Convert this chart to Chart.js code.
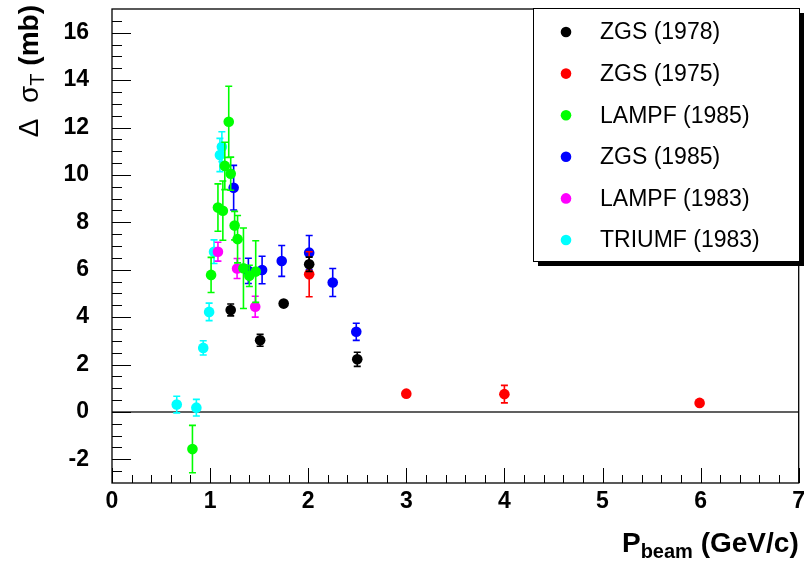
<!DOCTYPE html>
<html>
<head>
<meta charset="utf-8">
<script src="https://cdn.jsdelivr.net/npm/chart.js@4"></script>
<style>
  html, body { margin: 0; padding: 0; background: #fff; }
  #wrap { width: 804px; height: 564px; }
</style>
</head>
<body>
<div id="wrap"><canvas id="myChart" width="804" height="564"></canvas></div>
<script>
// ---- data: x = P_beam (GeV/c), y = delta sigma_T (mb), e = error ----
var zgs78X = [1.21, 1.51, 1.75, 2.01, 2.50];
var zgs78Y = [4.30, 3.02, 4.57, 6.23, 2.22];
var zgs78E = [0.25, 0.25, 0.0, 0.3, 0.3];

var zgs75X = [2.01, 3.00, 4.00, 5.99];
var zgs75Y = [5.81, 0.77, 0.75, 0.38];
var zgs75E = [0.95, 0.0, 0.37, 0.1];

var lampf85X = [0.82, 1.01, 1.08, 1.13, 1.15, 1.19, 1.21, 1.25, 1.28, 1.34, 1.40, 1.465];
var lampf85Y = [-1.57, 5.78, 8.62, 8.49, 10.38, 12.24, 10.05, 7.86, 7.29, 6.06, 5.74, 5.92];
var lampf85E = [1.0, 0.74, 1.0, 1.25, 1.0, 1.5, 0.7, 0.6, 1.0, 1.7, 0.45, 1.3];

var zgs85X = [1.24, 1.39, 1.53, 1.73, 2.01, 2.25, 2.49];
var zgs85Y = [9.46, 5.95, 5.99, 6.37, 6.72, 5.46, 3.38];
var zgs85E = [0.94, 0.53, 0.58, 0.65, 0.72, 0.59, 0.36];

var lampf83X = [1.08, 1.275, 1.46];
var lampf83Y = [6.76, 6.05, 4.44];
var lampf83E = [0.4, 0.42, 0.44];

var triumfX = [0.66, 0.86, 0.93, 0.99, 1.04, 1.10, 1.12];
var triumfY = [0.31, 0.18, 2.70, 4.22, 6.76, 10.84, 11.19];
var triumfE = [0.35, 0.35, 0.3, 0.37, 0.5, 0.7, 0.63];

var seriesNames = ["ZGS (1978)", "ZGS (1975)", "LAMPF (1985)", "ZGS (1985)", "LAMPF (1983)", "TRIUMF (1983)"];
var seriesColors = ["#000000", "#ff0000", "#00ff00", "#0000ff", "#ff00ff", "#00ffff"];

var xTicks = [0, 1, 2, 3, 4, 5, 6, 7];
var yTicks = [-2, 0, 2, 4, 6, 8, 10, 12, 14, 16];

function makeSet(i, xs, ys, es) {
  var pts = [];
  for (var k = 0; k < xs.length; k++) {
    pts.push({ x: xs[k], y: ys[k], e: es[k] });
  }
  return {
    label: seriesNames[i],
    data: pts,
    backgroundColor: seriesColors[i],
    borderColor: seriesColors[i],
    borderWidth: 0,
    pointRadius: 5.3,
    pointHoverRadius: 5.3
  };
}

var datasets = [
  makeSet(0, zgs78X, zgs78Y, zgs78E),
  makeSet(1, zgs75X, zgs75Y, zgs75E),
  makeSet(2, lampf85X, lampf85Y, lampf85E),
  makeSet(3, zgs85X, zgs85Y, zgs85E),
  makeSet(4, lampf83X, lampf83Y, lampf83E),
  makeSet(5, triumfX, triumfY, triumfE)
];

var FONT = "'Liberation Sans', Arial, Helvetica, sans-serif";

// frame, inner ticks, zero line, error bars, legend and axis titles
var framePlugin = {
  id: 'frame',
  beforeDatasetsDraw: function(chart) {
    var c = chart.ctx, a = chart.chartArea;
    var xs = chart.scales.x, ys = chart.scales.y;
    c.save();
    // zero line
    c.strokeStyle = '#606060';
    c.lineWidth = 2;
    c.beginPath();
    c.moveTo(a.left, ys.getPixelForValue(0));
    c.lineTo(a.right, ys.getPixelForValue(0));
    c.stroke();
    // frame
    c.strokeStyle = '#000';
    c.lineWidth = 1.3;
    c.strokeRect(a.left, a.top, a.right - a.left, a.bottom - a.top);
    c.lineWidth = 1;
    c.beginPath();
    // y ticks every 0.5, major every 2
    for (var v = -3; v <= 17.001; v += 0.5) {
      var py = Math.round(ys.getPixelForValue(v)) + 0.5;
      var len = (Math.abs(v % 2) < 1e-6) ? 19 : 10;
      if (py <= a.top + 1 || py >= a.bottom - 1) continue;
      c.moveTo(a.left, py);
      c.lineTo(a.left + len, py);
    }
    // x ticks every 0.2, major every 1
    for (var k = 0; k <= 35; k++) {
      var xv = k * 0.2;
      var px = Math.round(xs.getPixelForValue(xv)) + 0.5;
      var l2 = (k % 5 === 0) ? 15 : 8;
      c.moveTo(px, a.bottom);
      c.lineTo(px, a.bottom - l2);
    }
    c.stroke();
    c.restore();
  },
  beforeDatasetDraw: function(chart, args) {
    // error bars under each series' markers
    var ds = chart.data.datasets[args.index];
    var xs = chart.scales.x, ys = chart.scales.y, c = chart.ctx;
    c.save();
    c.strokeStyle = ds.borderColor;
    c.lineWidth = 1.6;
    c.beginPath();
    ds.data.forEach(function(p) {
      if (!p.e) return;
      var px = xs.getPixelForValue(p.x);
      var top = ys.getPixelForValue(p.y + p.e);
      var bot = ys.getPixelForValue(p.y - p.e);
      c.moveTo(px, top); c.lineTo(px, bot);
      c.moveTo(px - 3.5, top); c.lineTo(px + 3.5, top);
      c.moveTo(px - 3.5, bot); c.lineTo(px + 3.5, bot);
    });
    c.stroke();
    c.restore();
  },
  afterDraw: function(chart) {
    var c = chart.ctx;
    c.save();
    // legend box with shadow
    var bx = 533, by = 8, bw = 266, bh = 253;
    c.fillStyle = '#000';
    c.fillRect(bx + 5, by + 5, bw, bh);
    c.fillStyle = '#fff';
    c.fillRect(bx, by, bw, bh);
    c.strokeStyle = '#000';
    c.lineWidth = 1;
    c.strokeRect(bx + 0.5, by + 0.5, bw, bh);
    c.font = '23px ' + FONT;
    c.textBaseline = 'middle';
    chart.data.datasets.forEach(function(ds, i) {
      var ry = 32 + i * 41.6;
      c.fillStyle = ds.backgroundColor;
      c.beginPath();
      c.arc(566, ry, 5.3, 0, Math.PI * 2);
      c.fill();
      c.fillStyle = '#000';
      c.textAlign = 'left';
      c.fillText(ds.label, 600, ry + 1);
    });

    // x axis title: P_beam (GeV/c), right aligned to the frame end
    var big = 'bold 28px ' + FONT, small = 'bold 20px ' + FONT;
    c.textBaseline = 'alphabetic';
    c.textAlign = 'left';
    c.font = big; var w1 = c.measureText('P').width;
    c.font = small; var w2 = c.measureText('beam').width;
    c.font = big; var w3 = c.measureText(' (GeV/c)').width;
    var x0 = chart.chartArea.right - (w1 + w2 + w3);
    var base = 552;
    c.font = big; c.fillText('P', x0, base);
    c.font = small; c.fillText('beam', x0 + w1, base + 6);
    c.font = big; c.fillText(' (GeV/c)', x0 + w1 + w2, base);

    // y axis title: Δ σ_T (mb), rotated, right aligned to the frame top
    var nrm = '28px ' + FONT, sub = '20px ' + FONT;
    c.font = nrm; var a1 = c.measureText('\u0394  \u03c3').width;
    c.font = sub; var a2 = c.measureText('T').width;
    c.font = big; var a3 = c.measureText(' (mb)').width;
    var total = a1 + a2 + a3;
    c.translate(38, 5 + total);
    c.rotate(-Math.PI / 2);
    c.fillStyle = '#000';
    c.font = nrm; c.fillText('\u0394  \u03c3', 0, 0);
    c.font = sub; c.fillText('T', a1, 6);
    c.font = big; c.fillText(' (mb)', a1 + a2, 0);
    c.restore();
  }
};

var ctx = document.getElementById('myChart').getContext('2d');
var chart = new Chart(ctx, {
  type: 'scatter',
  data: { datasets: datasets },
  options: {
    responsive: false,
    animation: false,
    layout: { padding: { top: 9, right: 4, left: 0, bottom: 0 } },
    plugins: {
      legend: { display: false },
      tooltip: { enabled: false }
    },
    scales: {
      x: {
        type: 'linear',
        min: 0, max: 7,
        afterBuildTicks: function(s) { s.ticks = xTicks.map(function(v) { return { value: v }; }); },
        afterFit: function(s) { s.height = 81; s.paddingLeft = 0; s.paddingRight = 0; },
        grid: { display: false, drawTicks: false },
        border: { display: false },
        ticks: {
          color: '#000',
          padding: 5,
          maxRotation: 0,
          font: { family: FONT, size: 23, weight: 'bold' }
        }
      },
      y: {
        type: 'linear',
        min: -3, max: 17,
        afterBuildTicks: function(s) { s.ticks = yTicks.map(function(v) { return { value: v }; }); },
        afterFit: function(s) { s.width = 112; s.paddingTop = 0; s.paddingBottom = 0; },
        grid: { display: false, drawTicks: false },
        border: { display: false },
        ticks: {
          color: '#000',
          padding: 23,
          font: { family: FONT, size: 23, weight: 'bold' }
        }
      }
    }
  },
  plugins: [framePlugin]
});
</script>
</body>
</html>
